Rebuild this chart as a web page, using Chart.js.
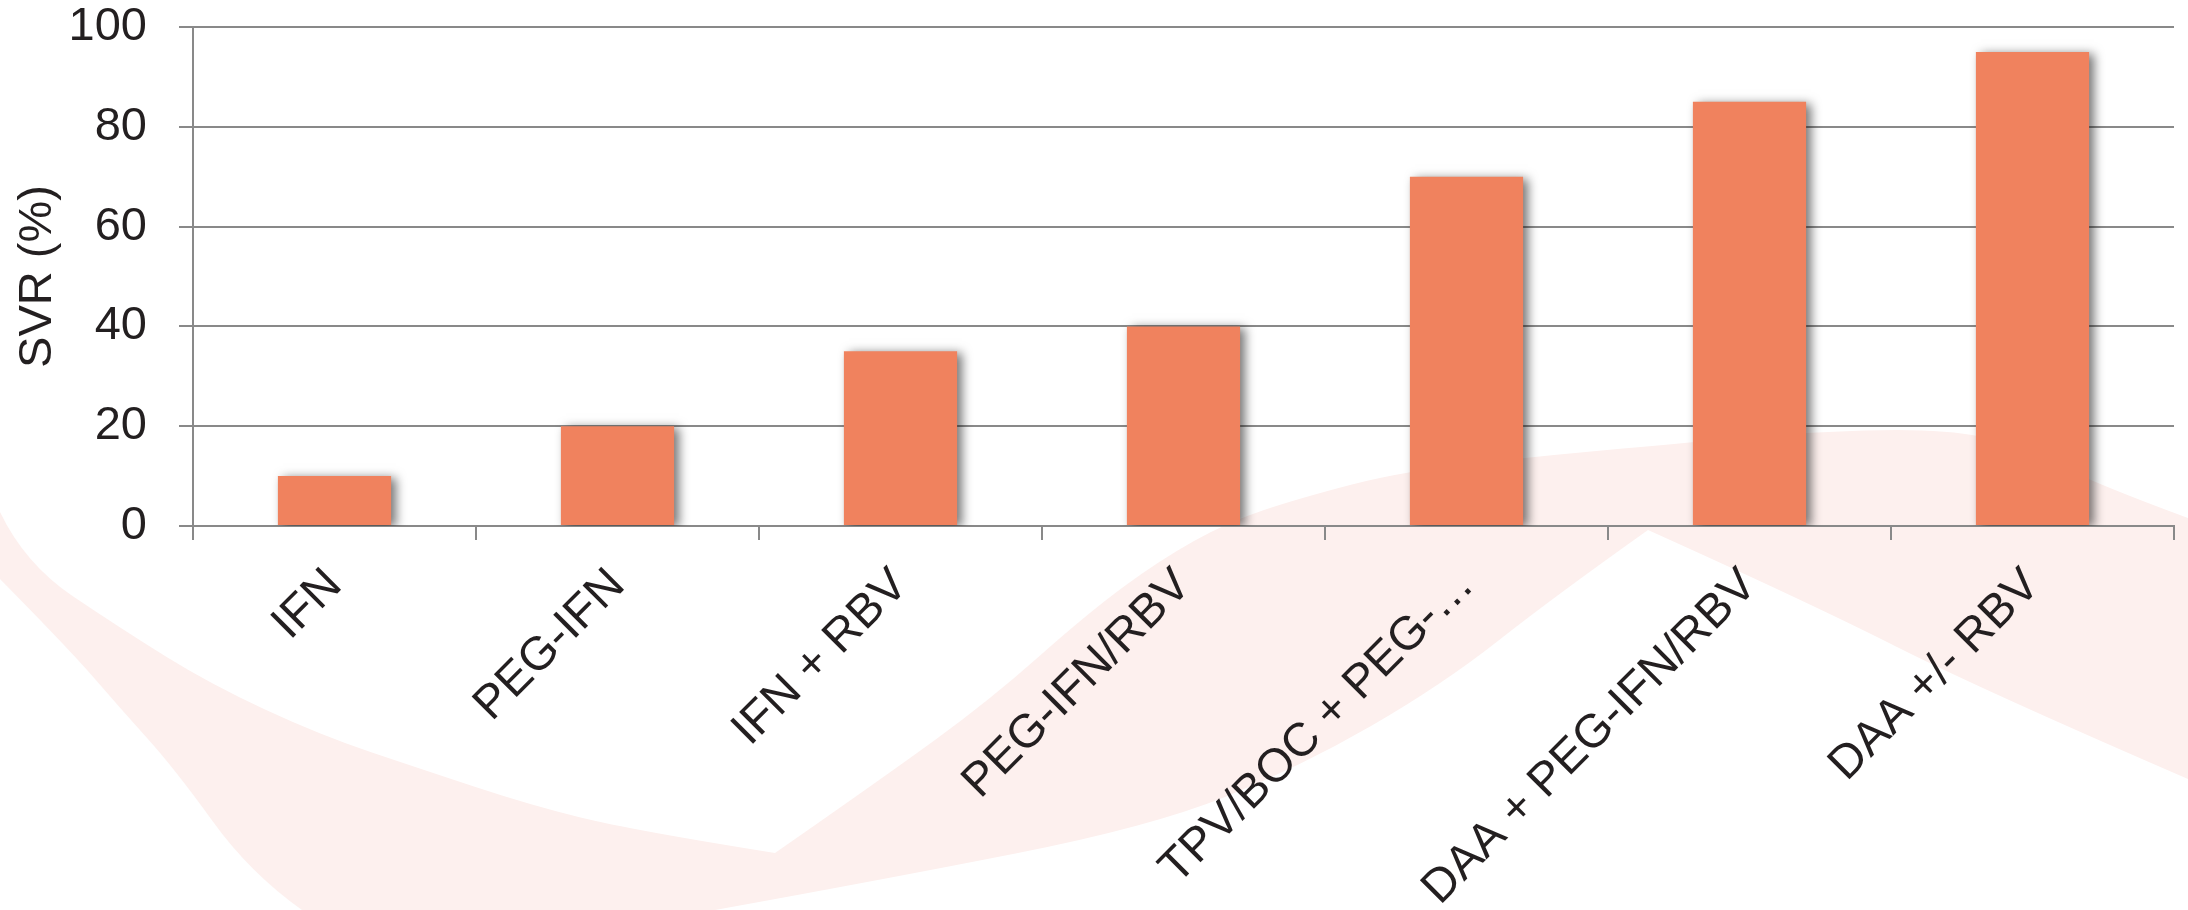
<!DOCTYPE html>
<html>
<head>
<meta charset="utf-8">
<script src="https://cdn.jsdelivr.net/npm/chart.js@4"></script>
<style>
  html, body { margin: 0; padding: 0; background: #ffffff; overflow: hidden; }
  #wrap { width: 2188px; height: 910px; position: relative; }
</style>
</head>
<body>
<div id="wrap"><canvas id="c"></canvas></div>
<script>
// ---- data ----
const categories = ["IFN", "PEG-IFN", "IFN + RBV", "PEG-IFN/RBV", "TPV/BOC + PEG-…", "DAA + PEG-IFN/RBV", "DAA +/- RBV"];
const svrValues = [10, 20, 35, 40, 70, 85, 95];
const yTicks = [0, 20, 40, 60, 80, 100];
const yTitle = "SVR (%)";

// ---- decoration: faint pink swoosh in the background (canvas pixels) ----
// each point: [x, y, sharp?]
const swoosh = [
  [0,512,1],[25,564],[120,628],[210,684],[320,735],[421,769],[530,805],[631,830],[775,853,1],
  [880,780],[990,700],[1088,613],[1160,560],[1228,522],[1300,498],[1404,471],[1550,455],
  [1696,442],[1789,433],[1940,428],[2020,445],[2093,483],[2188,518,1],
  [2188,779,1],[1980,689],[1810,603],[1648,530,1],
  [1555,596],[1442,685],[1300,767],[1150,827],[881,880],[715,910,1],
  [302,910,1],[250,873],[175,769],[120,708],[70,650],[0,579,1]
];
function tracePath(ctx, pts) {
  const n = pts.length;
  ctx.beginPath();
  ctx.moveTo(pts[0][0], pts[0][1]);
  for (let i = 1; i <= n; i++) {
    const p = pts[i % n];
    const q = pts[(i + 1) % n];
    if (p[2] || i === n) {
      ctx.lineTo(p[0], p[1]);
    } else {
      const mx = q[2] ? q[0] : (p[0] + q[0]) / 2;
      const my = q[2] ? q[1] : (p[1] + q[1]) / 2;
      ctx.quadraticCurveTo(p[0], p[1], mx, my);
    }
  }
  ctx.closePath();
}
const bgPlugin = {
  id: 'bg',
  beforeDraw(chart) {
    const ctx = chart.ctx;
    ctx.save();
    ctx.fillStyle = '#ffffff';
    ctx.fillRect(0, 0, chart.width, chart.height);
    ctx.fillStyle = '#fdf0ee';
    tracePath(ctx, swoosh);
    ctx.fill();
    ctx.restore();
  }
};
const shadowPlugin = {
  id: 'barShadow',
  beforeDatasetsDraw(chart) {
    const ctx = chart.ctx;
    ctx.save();
    ctx.shadowColor = 'rgba(0,0,0,0.55)';
    ctx.shadowBlur = 10;
    ctx.shadowOffsetX = 5;
    ctx.shadowOffsetY = 2;
  },
  afterDatasetsDraw(chart) {
    chart.ctx.restore();
  }
};

const gridColor = '#898989';
const textColor = '#231f20';
const font = { family: "'Liberation Sans', Arial, sans-serif", size: 47 };

new Chart(document.getElementById('c'), {
  type: 'bar',
  data: {
    labels: categories,
    datasets: [{
      label: yTitle,
      data: svrValues,
      backgroundColor: '#f0825e',
      borderWidth: 0,
      barPercentage: 0.4,
      categoryPercentage: 1.0
    }]
  },
  options: {
    responsive: true,
    maintainAspectRatio: false,
    animation: false,
    layout: { padding: { top: 27, right: 14, bottom: 0, left: 0 } },
    plugins: {
      legend: { display: false },
      tooltip: { enabled: false }
    },
    scales: {
      x: {
        grid: {
          display: true,
          drawOnChartArea: false,
          drawTicks: true,
          tickLength: 14,
          offset: true,
          color: gridColor,
          lineWidth: 2
        },
        border: { display: true, color: gridColor, width: 2 },
        ticks: {
          color: textColor,
          font: font,
          maxRotation: 45,
          minRotation: 45,
          autoSkip: false,
          padding: 18
        },
        afterFit(scale) {
          scale.height = 384;
          scale.paddingLeft = 0;
          scale.paddingRight = 0;
        }
      },
      y: {
        min: 0,
        max: 100,
        afterBuildTicks(scale) { scale.ticks = yTicks.map(v => ({ value: v })); },
        grid: {
          color: gridColor,
          lineWidth: 2,
          drawTicks: true,
          tickLength: 14
        },
        border: { display: true, color: gridColor, width: 2 },
        ticks: {
          color: textColor,
          font: font,
          padding: 32
        },
        title: {
          display: true,
          text: yTitle,
          color: textColor,
          font: font,
          padding: { top: 10, bottom: 0 }
        },
        afterFit(scale) {
          scale.width = 193;
          scale.paddingTop = 0;
          scale.paddingBottom = 0;
        }
      }
    }
  },
  plugins: [bgPlugin, shadowPlugin]
});
</script>
</body>
</html>
